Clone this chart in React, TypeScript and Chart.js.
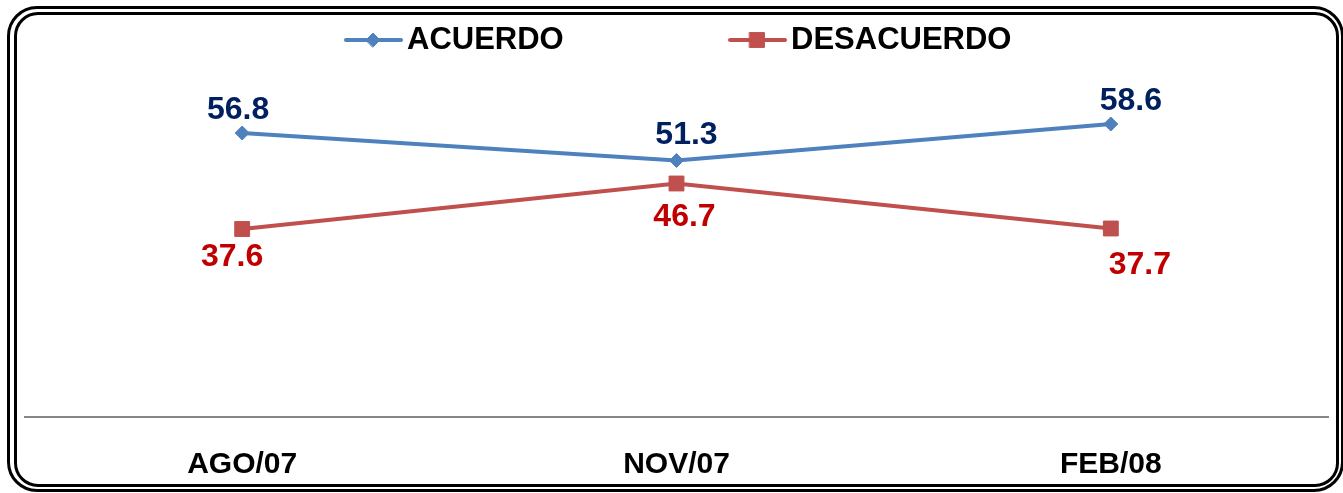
import React, { useEffect, useRef } from 'react';
import { Chart, registerables } from 'chart.js';

Chart.register(...registerables);

const categories = ['AGO/07', 'NOV/07', 'FEB/08'];
const acuerdo = [56.8, 51.3, 58.6];
const desacuerdo = [37.6, 46.7, 37.7];
const seriesNames = ['ACUERDO', 'DESACUERDO'];

const FONT = '"Liberation Sans", Arial, Helvetica, sans-serif';
const lineColors = ['#4F81BD', '#C0504D'];
const labelColors = ['#002060', '#C00000'];

// data-label offsets (px) from each point, per series
const labelOffsets = [
  [[-4, -23], [10, -25], [20, -23]],
  [[-10, 28], [8, 34], [29, 37]],
];

// legend item start x (px) and center y
const legendStarts = [346, 730];
const legendY = 40;

function drawMarker(ctx: CanvasRenderingContext2D, style: string, x: number, y: number, r: number, color: string) {
  ctx.save();
  ctx.fillStyle = color;
  ctx.strokeStyle = color;
  ctx.lineWidth = 1;
  ctx.beginPath();
  if (style === 'rectRot') {
    ctx.moveTo(x - r, y);
    ctx.lineTo(x, y - r);
    ctx.lineTo(x + r, y);
    ctx.lineTo(x, y + r);
    ctx.closePath();
  } else {
    const s = Math.SQRT1_2 * r;
    ctx.rect(x - s, y - s, 2 * s, 2 * s);
  }
  ctx.fill();
  ctx.stroke();
  ctx.restore();
}

const legendPlugin = {
  id: 'lineLegend',
  afterDraw(chart: any) {
    const ctx = chart.ctx as CanvasRenderingContext2D;
    chart.data.datasets.forEach((ds: any, i: number) => {
      const x = legendStarts[i];
      ctx.save();
      ctx.strokeStyle = ds.borderColor;
      ctx.lineWidth = 4;
      ctx.lineCap = 'round';
      ctx.beginPath();
      ctx.moveTo(x, legendY);
      ctx.lineTo(x + 55, legendY);
      ctx.stroke();
      drawMarker(ctx, ds.pointStyle, x + 27, legendY, ds.pointRadius, ds.borderColor);
      ctx.fillStyle = '#000';
      ctx.font = `bold 31px ${FONT}`;
      ctx.textAlign = 'left';
      ctx.textBaseline = 'middle';
      ctx.fillText(ds.label, x + 61, legendY);
      ctx.restore();
    });
  },
};

const dataLabelPlugin = {
  id: 'dataLabels',
  afterDatasetsDraw(chart: any) {
    const ctx = chart.ctx as CanvasRenderingContext2D;
    chart.data.datasets.forEach((ds: any, i: number) => {
      const meta = chart.getDatasetMeta(i);
      meta.data.forEach((pt: any, j: number) => {
        const off = labelOffsets[i][j];
        ctx.save();
        ctx.fillStyle = labelColors[i];
        ctx.font = `bold 32px ${FONT}`;
        ctx.textAlign = 'center';
        ctx.textBaseline = 'middle';
        ctx.fillText(Number(ds.data[j]).toFixed(1), pt.x + off[0], pt.y + off[1]);
        ctx.restore();
      });
    });
  },
};

export default function App() {
  const ref = useRef<HTMLCanvasElement | null>(null);

  useEffect(() => {
    if (!ref.current) return;
    const chart = new Chart(ref.current, {
      type: 'line',
      data: {
        labels: categories,
        datasets: [
          {
            label: seriesNames[0],
            data: acuerdo,
            borderColor: lineColors[0],
            backgroundColor: lineColors[0],
            borderWidth: 4,
            pointStyle: 'rectRot',
            pointRadius: 7,
            pointBorderWidth: 1,
            tension: 0,
          },
          {
            label: seriesNames[1],
            data: desacuerdo,
            borderColor: lineColors[1],
            backgroundColor: lineColors[1],
            borderWidth: 4,
            pointStyle: 'rect',
            pointRadius: 10.5,
            pointBorderWidth: 1,
            tension: 0,
          },
        ] as any,
      },
      options: {
        animation: false,
        responsive: false,
        maintainAspectRatio: false,
        layout: { padding: { top: 17, left: 25, right: 15, bottom: 0 } },
        plugins: {
          legend: { display: false },
          tooltip: { enabled: false },
        },
        scales: {
          x: {
            offset: true,
            grid: { display: true, drawOnChartArea: false, drawTicks: false, color: 'rgba(0,0,0,0)' },
            border: { display: true, color: '#868686', width: 2 },
            ticks: {
              color: '#000',
              font: { family: FONT, size: 30, weight: 'bold' },
              padding: 30,
              maxRotation: 0,
              autoSkip: false,
            },
          },
          y: { display: false, min: 0, max: 80 },
        },
      },
      plugins: [legendPlugin, dataLabelPlugin],
    });
    return () => chart.destroy();
  }, []);

  return (
    <div style={{ position: 'fixed', left: 0, top: 0, width: 1343, height: 493, background: '#fff', overflow: 'hidden' }}>
      <div
        style={{
          position: 'absolute',
          left: 7,
          top: 6,
          width: 1337,
          height: 486,
          border: '3px solid #000',
          borderRadius: 30,
          boxSizing: 'border-box',
        }}
      />
      <div
        style={{
          position: 'absolute',
          left: 14,
          top: 12,
          width: 1325,
          height: 475,
          border: '3px solid #000',
          borderRadius: 24,
          boxSizing: 'border-box',
        }}
      />
      <canvas
        ref={ref}
        width={1343}
        height={513}
        style={{ position: 'absolute', left: 0, top: 0, width: 1343, height: 513 }}
      />
    </div>
  );
}
